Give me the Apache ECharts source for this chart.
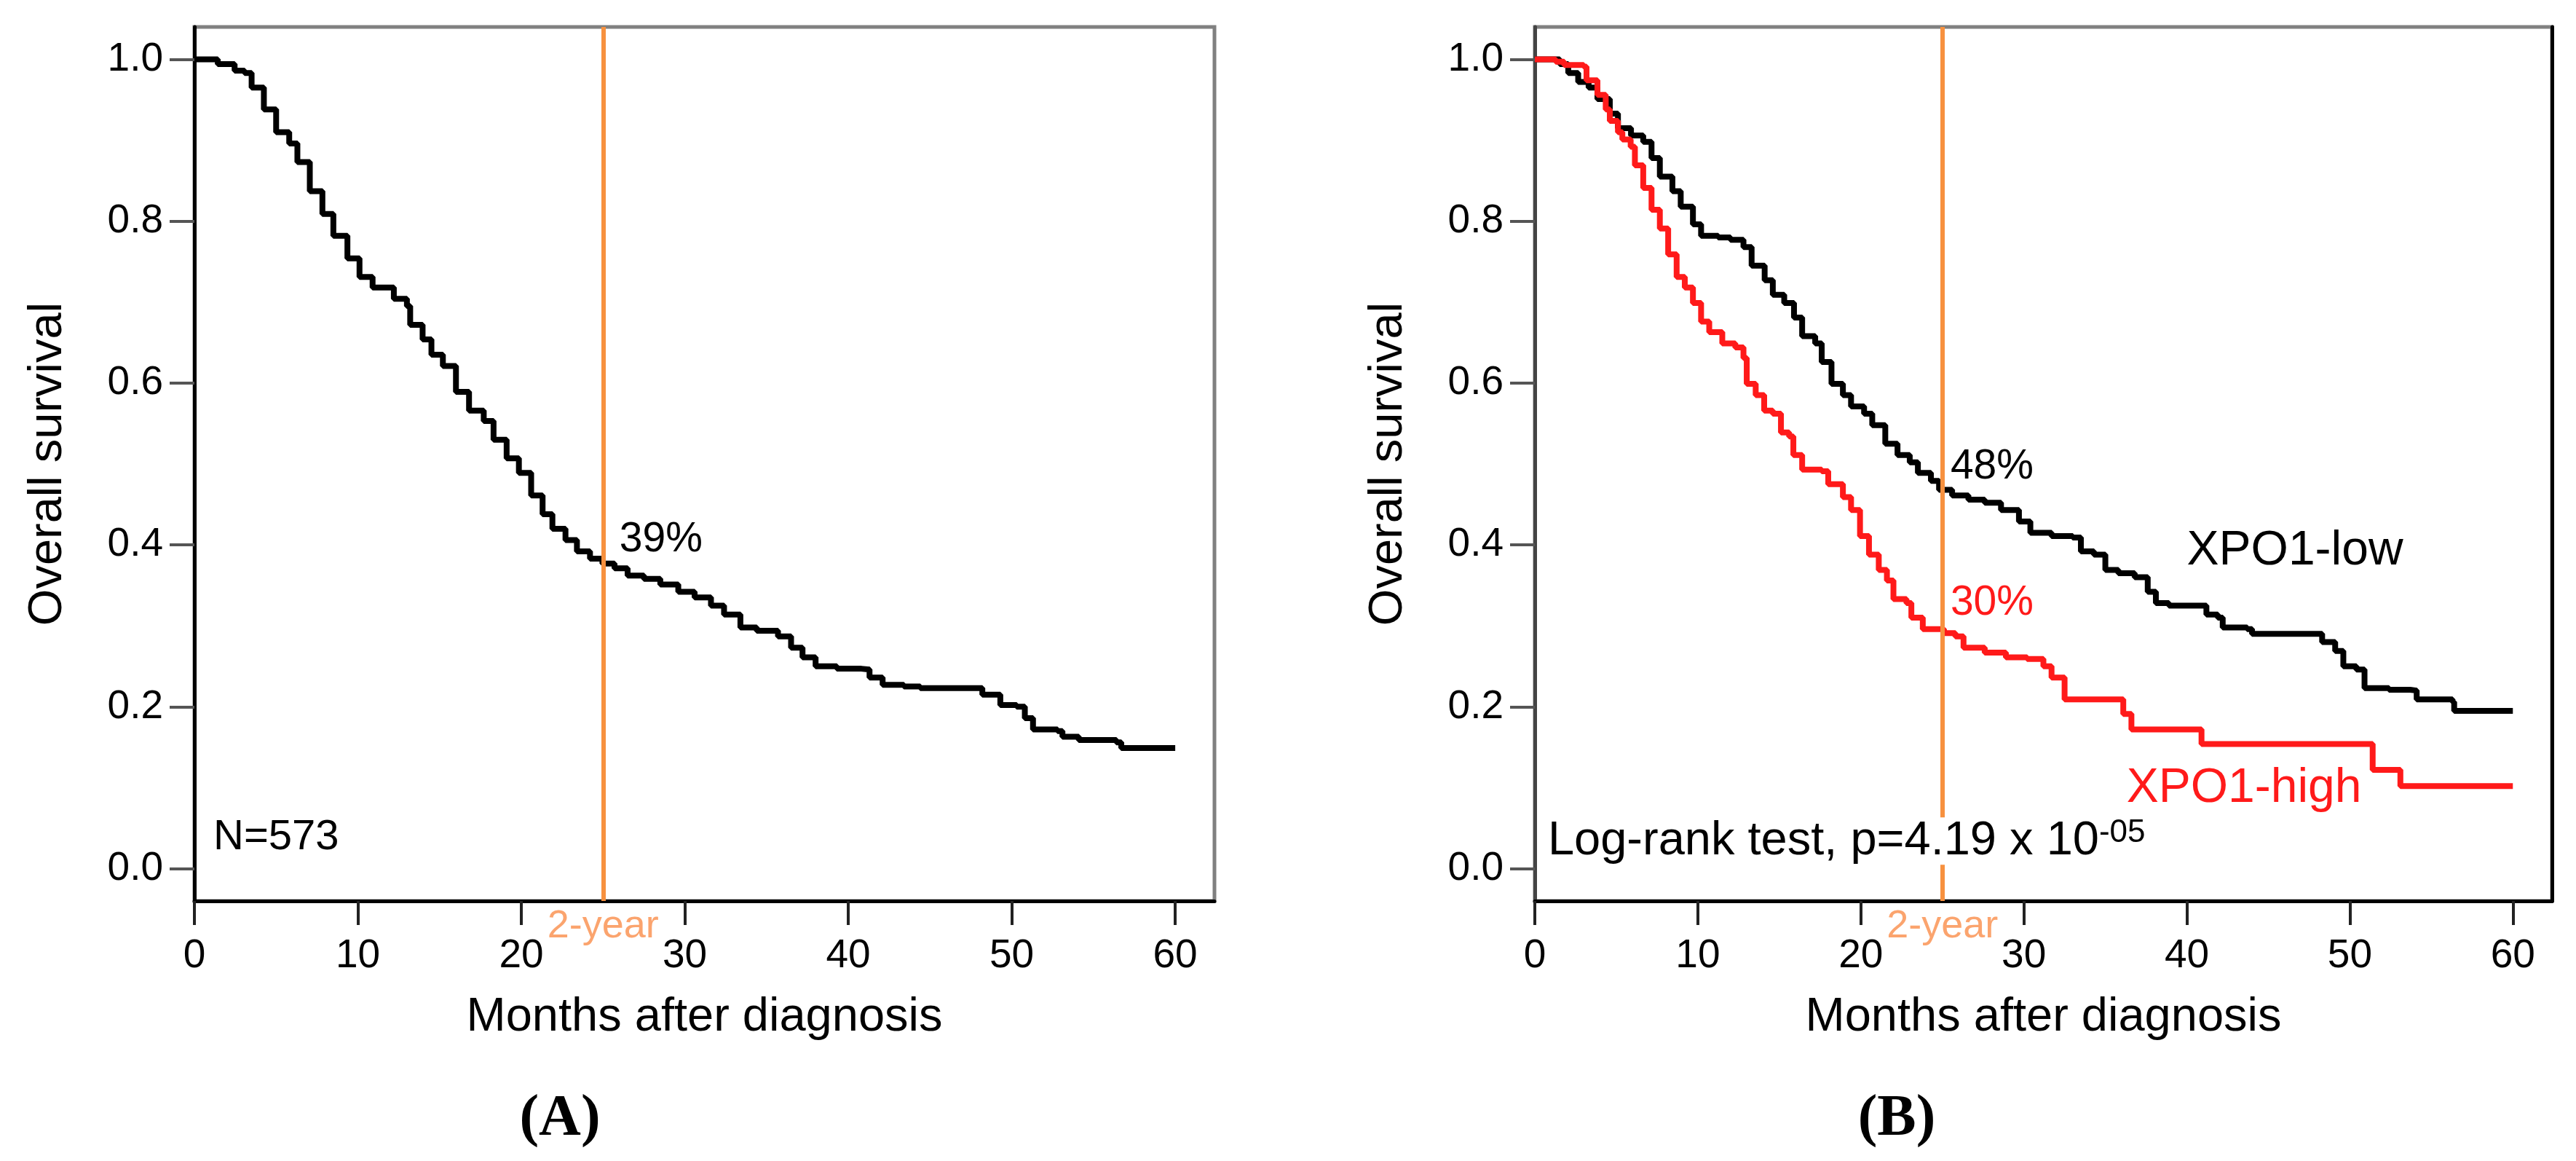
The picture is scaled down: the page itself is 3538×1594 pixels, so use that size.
<!DOCTYPE html>
<html>
<head>
<meta charset="utf-8">
<script src="https://cdn.jsdelivr.net/npm/echarts@6/dist/echarts.min.js"></script>
<style>
html, body { margin: 0; padding: 0; background: #fff; }
#main { width: 3538px; height: 1594px; }
</style>
</head>
<body>
<div id="main"></div>
<script>
// (A) all patients
var monthsAll = [0, 1.43, 2.46, 3.07, 3.5, 4.25, 5.0, 5.8, 6.3, 7.06, 7.83, 8.5, 9.36, 10.1, 10.9, 12.2, 13.0, 13.2, 13.96, 14.5,
	15.2, 16.0, 16.8, 17.7, 18.3, 19.1, 19.85, 20.6, 21.3, 21.9, 22.7, 23.4, 24.2, 24.96, 25.7, 26.5, 27.5, 28.5, 29.6, 30.6,
	31.6, 32.4, 33.4, 34.4, 35.7, 36.5, 37.2, 38.0, 39.3, 40.8, 41.3, 42.1, 43.4, 44.4, 48.2, 49.3, 50.3, 50.8, 51.3, 52.8,
	53.1, 54.1, 56.4, 56.7, 60];
var survAll = [1.0, 0.994, 0.986, 0.983, 0.965, 0.938, 0.91, 0.896, 0.873, 0.837, 0.809, 0.782, 0.754, 0.731, 0.718, 0.704, 0.695, 0.672, 0.654, 0.635,
	0.621, 0.589, 0.566, 0.553, 0.530, 0.507, 0.489, 0.461, 0.438, 0.420, 0.406, 0.392, 0.383, 0.377, 0.371, 0.362, 0.358, 0.351, 0.342, 0.335,
	0.325, 0.314, 0.298, 0.294, 0.287, 0.273, 0.261, 0.250, 0.247, 0.246, 0.236, 0.227, 0.225, 0.223, 0.215, 0.202, 0.200, 0.186, 0.172, 0.170,
	0.163, 0.159, 0.156, 0.149, 0.149];

// (B) XPO1-low
var monthsLow = [0, 1.53, 2.05, 2.66, 3.3, 3.84, 4.6, 5.1, 5.9, 6.65, 7.16, 7.67, 8.44, 8.95, 9.7, 10.2, 11.25, 12.0, 12.8, 13.3,
	14.1, 14.6, 15.3, 15.9, 16.4, 17.2, 17.6, 18.2, 18.9, 19.4, 20.2, 20.7, 21.5, 22.25, 23.0, 23.5, 24.3, 24.8, 25.6, 26.6,
	27.6, 28.6, 29.7, 30.4, 31.7, 33.0, 33.5, 34.3, 35.0, 35.8, 36.8, 37.6, 38.1, 38.9, 41.2, 41.9, 42.2, 43.7, 44.0, 48.3,
	49.1, 49.6, 50.4, 50.9, 52.4, 53.7, 54.1, 56.3, 56.4, 60];
var survLow = [1.0, 0.994, 0.983, 0.972, 0.965, 0.951, 0.933, 0.915, 0.906, 0.898, 0.878, 0.855, 0.837, 0.818, 0.796, 0.782, 0.780, 0.777, 0.768, 0.745,
	0.727, 0.709, 0.699, 0.681, 0.658, 0.649, 0.626, 0.599, 0.585, 0.571, 0.562, 0.548, 0.525, 0.511, 0.502, 0.489, 0.479, 0.468, 0.461, 0.456,
	0.452, 0.443, 0.429, 0.415, 0.411, 0.409, 0.392, 0.388, 0.369, 0.365, 0.360, 0.342, 0.328, 0.325, 0.314, 0.310, 0.298, 0.296, 0.290, 0.280,
	0.269, 0.250, 0.246, 0.223, 0.221, 0.220, 0.209, 0.206, 0.195, 0.195];

// (B) XPO1-high
var monthsHigh = [0, 1.28, 1.8, 3.0, 3.17, 3.84, 4.35, 4.6, 5.1, 5.37, 5.88, 6.14, 6.65, 7.16, 7.67, 8.18, 8.7, 9.2, 9.7, 10.2,
	10.7, 11.5, 12.3, 12.8, 13.0, 13.55, 14.07, 14.6, 15.1, 15.6, 15.86, 16.4, 17.6, 18.0, 18.9, 19.4, 19.95, 20.5, 21.1, 21.6,
	22.0, 22.8, 23.1, 23.8, 25.1, 25.8, 26.3, 27.6, 28.9, 30.2, 31.2, 31.7, 32.5, 36.1, 36.6, 40.9, 51.4, 53.1, 60];
var survHigh = [1.0, 0.997, 0.993, 0.991, 0.974, 0.956, 0.938, 0.924, 0.910, 0.901, 0.892, 0.869, 0.841, 0.814, 0.791, 0.759, 0.731, 0.718, 0.699, 0.676,
	0.663, 0.649, 0.644, 0.631, 0.599, 0.585, 0.566, 0.562, 0.539, 0.534, 0.511, 0.493, 0.491, 0.475, 0.459, 0.443, 0.411, 0.388, 0.369, 0.356,
	0.333, 0.328, 0.310, 0.296, 0.291, 0.287, 0.273, 0.267, 0.261, 0.259, 0.250, 0.236, 0.209, 0.191, 0.172, 0.154, 0.122, 0.102, 0.102];

var xTicks = [0, 10, 20, 30, 40, 50, 60];
var yTicks = [0, 0.2, 0.4, 0.6, 0.8, 1.0];
var landmark = 25;

var F = "'Liberation Sans', Arial, Helvetica, sans-serif";
var orange = '#f7913f';
var red = '#ff1a1a';

function pairs(xs, ys) {
	return xs.map(function (x, i) { return [x, ys[i]]; });
}

function xAxisCfg(i) {
	return {
		type: 'value', gridIndex: i, min: 0, max: 62.4,
		name: 'Months after diagnosis', nameLocation: 'middle', nameGap: 128,
		nameTextStyle: { fontSize: 65, color: '#000', fontFamily: F },
		axisLine: { onZero: false, lineStyle: { color: '#000', width: 5 } },
		axisTick: { customValues: xTicks, length: 33, lineStyle: { color: '#222', width: 4 } },
		axisLabel: { customValues: xTicks, margin: 48, fontSize: 55, color: '#000', fontFamily: F },
		splitLine: { show: false }
	};
}

function yAxisCfg(i, lineColor) {
	return {
		type: 'value', gridIndex: i, min: -0.04, max: 1.04,
		name: 'Overall survival', nameLocation: 'middle', nameGap: 168,
		nameTextStyle: { fontSize: 65, color: '#000', fontFamily: F },
		axisLine: { onZero: false, lineStyle: { color: lineColor, width: 5 } },
		axisTick: { customValues: yTicks, length: 34, lineStyle: { color: '#555', width: 4 } },
		axisLabel: {
			customValues: yTicks, margin: 43, fontSize: 55, color: '#000', fontFamily: F,
			formatter: function (v) { return v.toFixed(1); }
		},
		splitLine: { show: false }
	};
}

var landmarkLine = {
	silent: true,
	symbol: ['none', 'none'],
	lineStyle: { color: orange, width: 6, type: 'solid' },
	label: { show: true, position: 'start', formatter: '2-year', color: '#fba46e', fontSize: 54, fontFamily: F, distance: 8 },
	emphasis: { disabled: true },
	data: [{ xAxis: landmark }]
};

var myChart = echarts.init(document.getElementById('main'), null, { renderer: 'canvas' });

var option = {
	animation: false,
	backgroundColor: '#fff',
	grid: [
		{ left: 267, top: 37, width: 1401, height: 1200, show: true, borderColor: '#808080', borderWidth: 5 },
		{ left: 2108, top: 37, width: 1397, height: 1200, show: true, borderColor: '#808080', borderWidth: 5 }
	],
	xAxis: [xAxisCfg(0), xAxisCfg(1)],
	yAxis: [
		yAxisCfg(0, '#000'),
		yAxisCfg(1, '#444'),
		{
			type: 'value', gridIndex: 1, position: 'right', min: -0.04, max: 1.04,
			axisLine: { show: true, onZero: false, lineStyle: { color: '#000', width: 5 } },
			axisTick: { show: false }, axisLabel: { show: false }, splitLine: { show: false }
		}
	],
	series: [
		{
			type: 'line', name: 'All', xAxisIndex: 0, yAxisIndex: 0, step: 'end', showSymbol: false,
			data: pairs(monthsAll, survAll), lineStyle: { color: '#000', width: 8 },
			markLine: landmarkLine
		},
		{
			type: 'line', name: 'XPO1-low', xAxisIndex: 1, yAxisIndex: 1, step: 'end', showSymbol: false,
			data: pairs(monthsLow, survLow), lineStyle: { color: '#000', width: 8 }
		},
		{
			type: 'line', name: 'XPO1-high', xAxisIndex: 1, yAxisIndex: 1, step: 'end', showSymbol: false,
			data: pairs(monthsHigh, survHigh), lineStyle: { color: red, width: 8 },
			markLine: landmarkLine
		}
	]
};
myChart.setOption(option);

// annotations placed in data coordinates
function txt(grid, pos, text, color, size, extra) {
	var p = myChart.convertToPixel({ gridIndex: grid }, pos);
	var style = { text: text, fill: color, font: size + 'px ' + F, align: 'left', verticalAlign: 'middle' };
	if (extra) { for (var k in extra) { style[k] = extra[k]; } }
	return { type: 'text', x: p[0], y: p[1], z: 100, silent: true, style: style };
}

var notes = [
	txt(0, [26.0, 0.406], '39%', '#000', 57),
	txt(0, [1.16, 0.038], 'N=573', '#000', 58),
	txt(1, [25.5, 0.496], '48%', '#000', 57),
	txt(1, [25.5, 0.328], '30%', red, 57),
	txt(1, [40.0, 0.392], 'XPO1-low', '#000', 66),
	txt(1, [36.3, 0.099], 'XPO1-high', red, 66),
	txt(1, [0.8, 0.034], '{m|Log-rank test, p=4.19 x 10}{s|-05}', '#000', 65, {
		backgroundColor: '#fff',
		rich: {
			m: { fontSize: 65, fontFamily: F, fill: '#000' },
			s: { fontSize: 44, fontFamily: F, fill: '#000', verticalAlign: 'top' }
		}
	}),
	{ type: 'text', x: 769, y: 1537, z: 100, silent: true,
		style: { text: '(A)', fill: '#000', font: 'bold 80px "Liberation Serif", "Times New Roman", serif', align: 'center', verticalAlign: 'middle' } },
	{ type: 'text', x: 2605, y: 1537, z: 100, silent: true,
		style: { text: '(B)', fill: '#000', font: 'bold 80px "Liberation Serif", "Times New Roman", serif', align: 'center', verticalAlign: 'middle' } }
];
myChart.setOption({ graphic: notes });
</script>
</body>
</html>
